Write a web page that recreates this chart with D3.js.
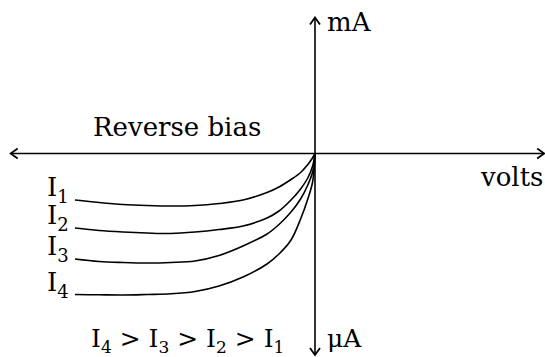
<!DOCTYPE html>
<html>
<head>
<meta charset="utf-8">
<script src="https://cdn.jsdelivr.net/npm/d3@7"></script>
<style>
  body { margin: 0; background: #fff; }
  svg text { font-family: "DejaVu Serif", "Liberation Serif", serif; fill: #000; }
</style>
</head>
<body>
<div id="chart"></div>
<script>
// reverse-bias characteristic, volts (negative side) vs current in uA
var volts = [-10, -9, -8, -7, -6, -5, -4, -3, -2, -1.5, -1, -0.6, -0.3, -0.1, 0]
var i1 = [-4.65, -4.9, -5.1, -5.2, -5.25, -5.2, -5.0, -4.65, -3.9, -3.35, -2.6, -1.9, -1.1, -0.42, 0]
var i2 = [-7.45, -7.7, -7.85, -7.95, -8.0, -7.85, -7.6, -7.25, -6.45, -5.75, -4.65, -3.55, -2.45, -1.25, 0]
var i3 = [-10.55, -10.8, -10.9, -10.95, -10.9, -10.75, -10.2, -9.25, -8.05, -7.1, -5.85, -4.55, -3.15, -1.85, 0]
var i4 = [-14.1, -14.13, -14.15, -14.1, -14.03, -13.8, -13.25, -12.35, -11.05, -10.05, -8.65, -6.55, -4.55, -2.85, 0]
var seriesNames = ["1", "2", "3", "4"]
var series = [i1, i2, i3, i4]

const svgWidth = 545
const svgHeight = 357

var svg = d3.select("#chart")
    .append("svg")
    .attr("width", svgWidth)
    .attr("height", svgHeight)

var x = d3.scaleLinear().domain([-10, 0]).range([75, 315])
var y = d3.scaleLinear().domain([-10, 0]).range([253.5, 153.5])

// arrow heads
var defs = svg.append("defs")
defs.append("marker")
    .attr("id", "arrow")
    .attr("viewBox", "-10 -6 12 12")
    .attr("refX", 0)
    .attr("refY", 0)
    .attr("markerUnits", "userSpaceOnUse")
    .attr("markerWidth", 12)
    .attr("markerHeight", 12)
    .attr("orient", "auto-start-reverse")
    .append("path")
    .attr("d", "M-7,-5 L0,0 L-7,5")
    .attr("fill", "none")
    .attr("stroke", "#000")
    .attr("stroke-width", 1.8)

// horizontal axis (volts), both ends open
svg.append("line")
    .attr("x1", x(-12.68)).attr("x2", x(9.55))
    .attr("y1", y(0)).attr("y2", y(0))
    .attr("stroke", "#000").attr("stroke-width", 1.6)
    .attr("marker-start", "url(#arrow)")
    .attr("marker-end", "url(#arrow)")

// vertical axis: mA up, uA down
svg.append("line")
    .attr("x1", x(0)).attr("x2", x(0))
    .attr("y1", y(13.6)).attr("y2", y(-20.15))
    .attr("stroke", "#000").attr("stroke-width", 1.6)
    .attr("marker-start", "url(#arrow)")
    .attr("marker-end", "url(#arrow)")

var line = d3.line()
    .x((d, i) => x(volts[i]))
    .y(d => y(d))
    .curve(d3.curveCatmullRom.alpha(0.5))

svg.selectAll("path.curve")
    .data(series)
    .enter()
    .append("path")
    .attr("class", "curve")
    .attr("d", d => line(d))
    .attr("fill", "none")
    .attr("stroke", "#000")
    .attr("stroke-width", 1.6)

// I labels at the left end of each curve
var lbl = svg.selectAll("text.ilabel")
    .data(series)
    .enter()
    .append("text")
    .attr("class", "ilabel")
    .attr("x", 47)
    .attr("y", d => y(d[0]) - 4)
    .style("font-size", "26px")
lbl.append("tspan").text("I")
lbl.append("tspan")
    .attr("dy", 7)
    .style("font-size", "18px")
    .text((d, i) => seriesNames[i])

svg.append("text")
    .attr("x", 93).attr("y", 136)
    .style("font-size", "26px")
    .text("Reverse bias")

svg.append("text")
    .attr("x", 327).attr("y", 31)
    .style("font-size", "26px")
    .text("mA")

svg.append("text")
    .attr("x", 481).attr("y", 186)
    .style("font-size", "26px")
    .text("volts")

svg.append("text")
    .attr("x", 327).attr("y", 347)
    .style("font-size", "25px")
    .text("\u03bcA")

// ordering note
var order = svg.append("text")
    .attr("x", 91).attr("y", 347)
    .style("font-size", "25px")
var parts = ["4", "3", "2", "1"]
parts.forEach(function(p, i) {
    order.append("tspan").attr("dy", i === 0 ? 0 : -6).text((i === 0 ? "" : " > ") + "I")
    order.append("tspan").attr("dy", 6).style("font-size", "17px").text(p)
})
</script>
</body>
</html>
